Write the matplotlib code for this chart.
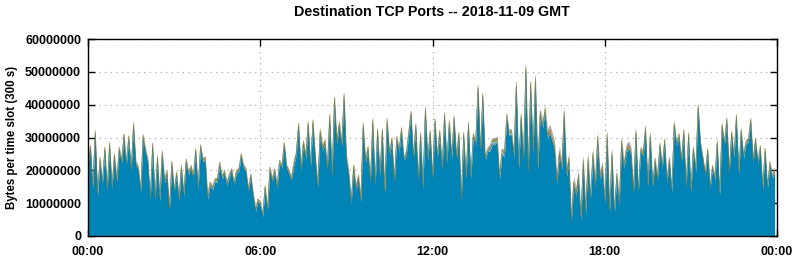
import numpy as np
import matplotlib
matplotlib.use("Agg")
import matplotlib.pyplot as plt

title = "Destination TCP Ports -- 2018-11-09 GMT"
ylabel = "Bytes per time slot (300 s)"
x_tick_hours = [0, 6, 12, 18, 24]
x_tick_labels = ["00:00", "06:00", "12:00", "18:00", "00:00"]
y_tick_values = [0, 10000000, 20000000, 30000000, 40000000, 50000000, 60000000]

# Total bytes per 300 s slot (millions), 288 slots
total_mbytes = [
    23, 28, 16, 32.6, 13.7, 24.4, 16.8, 27.5, 15, 29, 15.8, 25.5,
    17.8, 27.5, 23.4, 31.6, 22.9, 31, 20.9, 34.8, 23, 21.4, 14.8, 31.3,
    27, 24, 12.7, 29, 12.7, 25, 12.2, 26.5, 17.8, 20.4, 9.2, 23.4,
    14.8, 19.9, 12.2, 21.9, 13.7, 23.9, 19.9, 21.9, 18.9, 27, 15.3, 28.2,
    24, 24.4, 12.7, 16.8, 15.3, 17.8, 17.8, 22.9, 18.8, 20.4, 16.8, 19.3,
    20.9, 16.8, 20.4, 20.9, 25.5, 21.9, 20.9, 14.8, 19.3, 13.7, 8.7, 11.7,
    10.7, 7.1, 15.8, 8.7, 21.4, 17.8, 20.9, 15.8, 23.4, 21.9, 29, 21.9,
    20.4, 18.3, 22.9, 26, 34.9, 21.4, 29.5, 25, 35.3, 22.4, 35.9, 25,
    16.8, 33.3, 28, 30, 21.9, 38, 19.9, 43.3, 30, 35.6, 29, 44.3,
    25, 20, 11.7, 22.4, 15.8, 19.3, 12.2, 35.1, 24, 28, 17.8, 36.4,
    16.8, 33.3, 19.9, 33.3, 14.8, 36.4, 26, 30.5, 17.8, 30.9, 27, 33.6,
    24.4, 26, 32, 38.4, 25, 34.6, 18.3, 31.9, 15.8, 39.7, 24.4, 32.6,
    18.8, 36.2, 25, 32.6, 21.4, 38, 23.4, 35.6, 25, 37, 25, 32,
    12.2, 32, 18.8, 35.1, 18.8, 31.6, 29, 46.3, 27, 43.8, 24.4, 27,
    28, 30, 30, 30.5, 19.3, 27, 26, 37.7, 32.6, 32.6, 26, 47.4,
    22.9, 38.2, 25, 53, 21.4, 48.2, 27.5, 49.7, 22.4, 39.2, 35.1, 40,
    32.6, 34.1, 31.6, 29, 18.8, 27.5, 22.9, 39.7, 20.9, 25.5, 7.1, 18.3,
    14.8, 20.4, 7.6, 25, 9.7, 25.5, 13.7, 27, 17.3, 32, 19.9, 22.9,
    12.7, 32.6, 9.7, 27, 9.2, 20.4, 11.7, 30.5, 22.9, 28, 29, 27,
    14.8, 33.1, 14.8, 27.5, 26, 34.1, 16.8, 32, 16.8, 24.4, 18.8, 29,
    22, 30, 17.8, 24.4, 14.8, 35.1, 29, 31.6, 23.9, 32.9, 15.8, 32,
    14.8, 27.5, 20.9, 40.4, 29, 24.4, 19.9, 27, 15.8, 21.9, 18.3, 29.5,
    13.7, 34.6, 29, 36.4, 20.4, 32.3, 25, 37.4, 20.4, 33.1, 25, 29.5,
    30, 36.2, 23.9, 30.2, 23.4, 28, 15.8, 27.2, 15.8, 23.1, 18.8, 20.9,
]

# Thin upper layers (millions of bytes per slot), read hour by hour
lightblue_hourly = [0.3, 0.3, 0.3, 0.3, 0.4, 0.3, 0.3, 0.3, 0.3, 0.3, 0.3, 0.3,
                    0.3, 0.3, 0.8, 0.4, 0.4, 0.4, 0.4, 0.3, 0.3, 0.3, 0.3, 0.3]
olive_hourly = [0.6, 0.6, 0.6, 0.6, 0.6, 0.5, 0.5, 0.6, 0.6, 0.6, 0.6, 0.6,
                0.6, 0.6, 0.6, 0.6, 0.7, 0.7, 0.7, 0.6, 0.6, 0.6, 0.6, 0.6]
orange_hourly = [0.1, 0.1, 0.1, 0.1, 0.1, 0.1, 0.1, 0.2, 0.7, 0.5, 0.3, 0.1,
                 0.1, 0.1, 0.1, 0.3, 0.6, 0.3, 0.2, 0.1, 0.1, 0.1, 0.1, 0.1]
gray_hourly = [0.3, 0.3, 0.5, 0.3, 0.3, 0.3, 0.3, 0.3, 0.3, 0.3, 0.3, 0.3,
               0.3, 0.3, 0.5, 0.9, 1.1, 1.3, 1.1, 0.7, 0.4, 0.3, 0.3, 0.3]

fill_colors = ["#0083b5", "#86c3df", "#8c8a3e", "#d8661c", "#a6a6a6"]
edge_colors = ["#236d8c", None, "#86843a", None, None]

plt.rcParams['font.family'] = ['Liberation Sans', 'DejaVu Sans']
plt.rcParams['font.weight'] = 'bold'

total = np.array(total_mbytes) * 1e6
n = len(total)
hours = np.arange(n) * 300 / 3600.0
uppers = [np.repeat(np.array(h), 12)[:n] * 1e6
          for h in (lightblue_hourly, olive_hourly, orange_hourly, gray_hourly)]
base = total - sum(uppers)
layers = [base] + uppers

fig = plt.figure(figsize=(7.94, 2.6), dpi=100)
ax = fig.add_axes([88 / 794, 24 / 260, 689 / 794, 197 / 260])

bottom = np.zeros(n)
for vals, fc, ec in zip(layers, fill_colors, edge_colors):
    top = bottom + vals
    ax.fill_between(hours, bottom, top, color=fc, linewidth=0, zorder=2)
    if ec is not None:
        ax.plot(hours, top, color=ec, linewidth=0.35, zorder=3)
    bottom = top

ax.set_xlim(0, 24)
ax.set_ylim(0, 60000000)
ax.set_xticks(x_tick_hours)
ax.set_xticklabels(x_tick_labels, fontsize=9, fontweight='bold')
ax.set_yticks(y_tick_values)
ax.set_yticklabels([str(v) for v in y_tick_values], fontsize=9, fontweight='bold')
ax.tick_params(direction='in', length=5, width=1, top=True, right=True)
ax.tick_params(axis='y', pad=5)
ax.tick_params(axis='x', pad=7)
ax.grid(True, linestyle=(0, (1, 4)), color='#a0a0a0', linewidth=0.8, zorder=0)
ax.set_axisbelow(True)
for s in ax.spines.values():
    s.set_linewidth(1.0)
    s.set_zorder(5)

fig.text(12 / 794, 1 - 137 / 260, ylabel, rotation=90, ha='center', va='center',
         fontsize=8.3, fontweight='bold')
fig.text(432 / 794, 1 - 12 / 260, title, ha='center', va='center',
         fontsize=10.3, fontweight='bold')

fig.savefig("out.png", dpi=100)
